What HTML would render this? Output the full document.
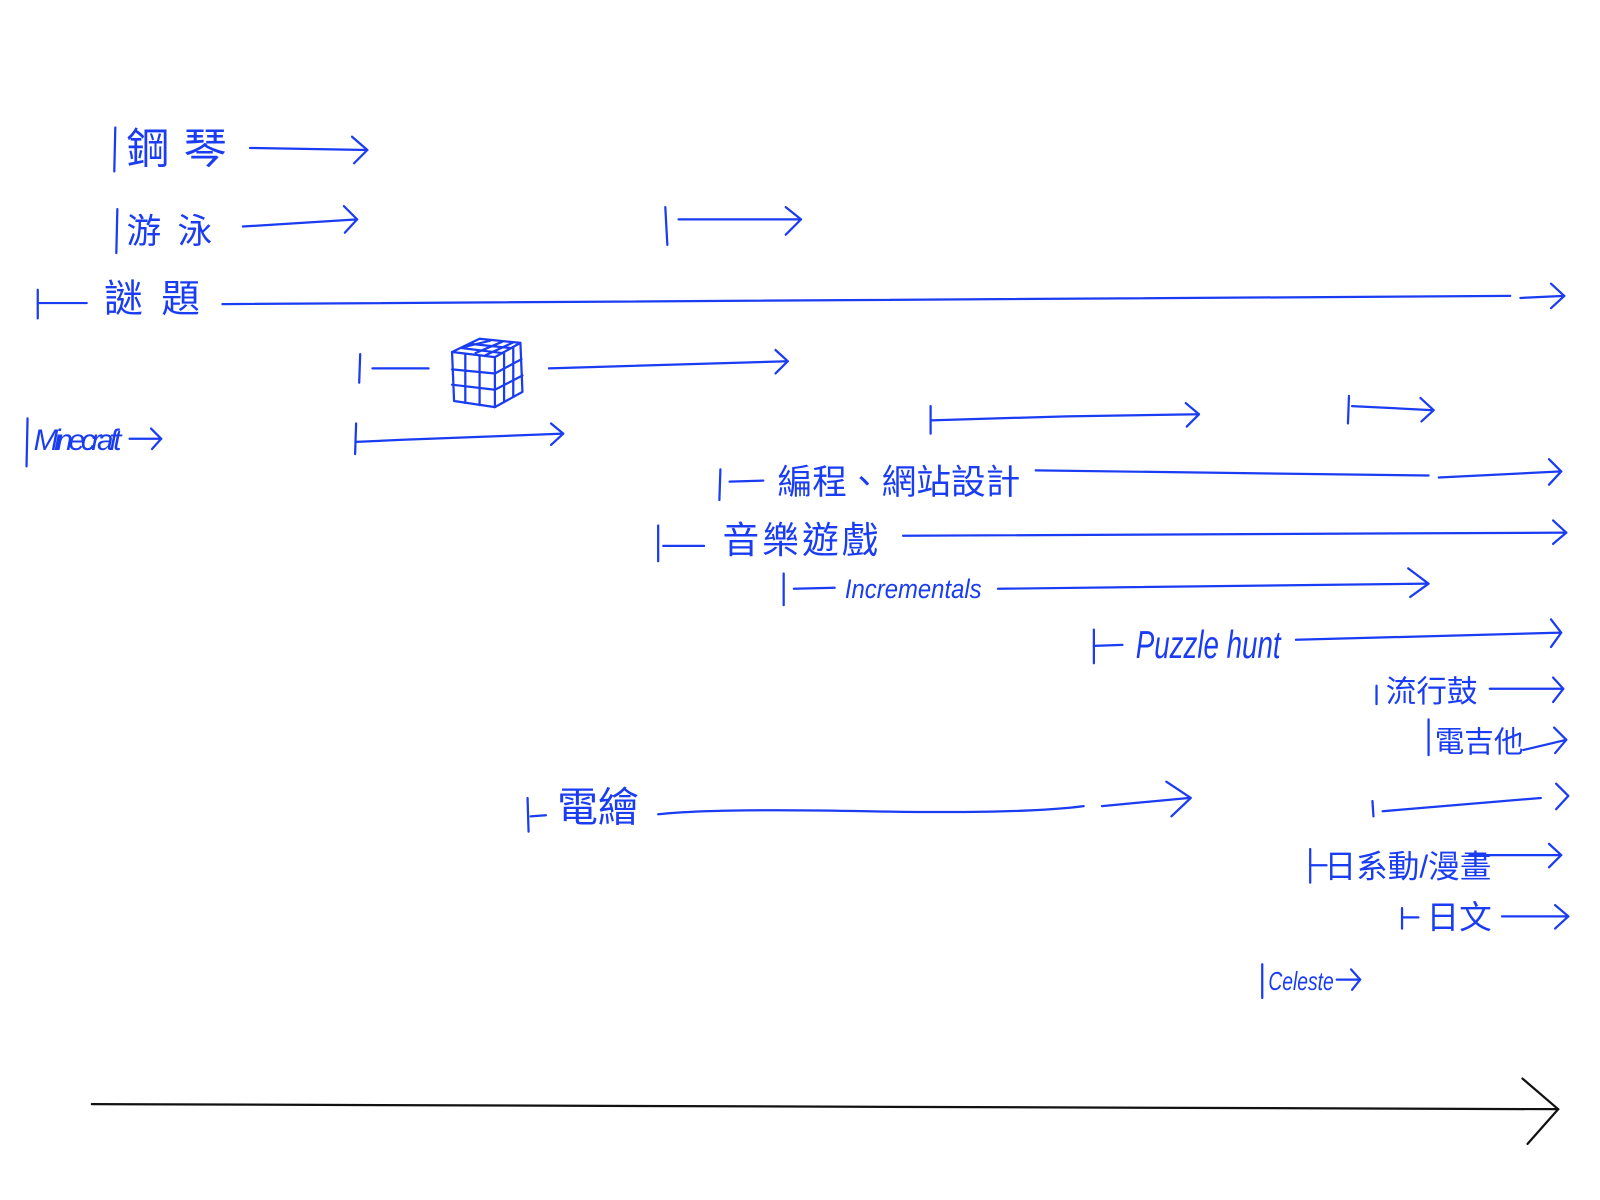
<!DOCTYPE html>
<html><head><meta charset="utf-8"><style>
html,body{margin:0;padding:0;background:#fff;width:1600px;height:1200px;overflow:hidden}
svg{display:block}
text{fill:#1a3cf2;font-family:"Liberation Sans","Noto Sans CJK TC",sans-serif}
</style></head><body>
<svg width="1600" height="1200" viewBox="0 0 1568 1176" xmlns="http://www.w3.org/2000/svg">
<g stroke="#1a3cf2" stroke-width="2.2" fill="none" stroke-linecap="round" stroke-linejoin="round">
<path d="M113 125 L112 168"/><path d="M245 145 L360 147"/><path d="M345 134 L360 147 L347 160"/>
<path d="M115 205 L114 248"/><path d="M238 222 L350 215"/><path d="M337 202 L350 215 L338 228"/>
<path d="M652 203 L654 240"/><path d="M665 215 L785 215"/><path d="M770 203 L785 215 L770 230"/>
<path d="M37 284 L37 312"/><path d="M37 297 L85 297"/><path d="M218 298 L1480 290"/><path d="M1490 292 L1533 290"/><path d="M1520 278 L1533 290 L1520 302"/>
<path d="M353 347 L352 375"/><path d="M365 361 L420 361"/><path d="M538 361 L772 354"/><path d="M760 343 L772 354 L760 366"/>
<path d="M443 345 L470 332 L510 336 L485 350 Z"/><path d="M443 345 L445 393 L485 399 L485 350"/><path d="M485 399 L512 384 L510 336"/>
<path d="M452 341 L492 346 M461 337 L500 341 M455 340 L480 334 M466 346 L492 335 M476 348 L502 336"/>
<path d="M456 347 L456 395 M470 348 L470 397 M443 362 L485 366 M443 377 L485 382 M494 345 L494 394 M503 340 L503 389 M485 366 L511 352 M485 382 L512 368"/>
<path d="M27 410 L26 457"/><path d="M127 430 L158 430"/><path d="M148 420 L158 430 L149 440"/>
<path d="M349 415 L348 445"/><path d="M349 433 L395 431 L552 425"/><path d="M540 415 L552 425 L540 436"/>
<path d="M912 398 L912 425"/><path d="M912 412 L1045 408 L1175 406"/><path d="M1162 395 L1175 406 L1163 418"/>
<path d="M1322 388 L1321 415"/><path d="M1325 398 L1405 402"/><path d="M1392 390 L1405 402 L1393 413"/>
<path d="M706 460 L705 490"/><path d="M715 472 L748 471"/><path d="M1015 461 L1400 466"/><path d="M1410 468 L1530 462"/><path d="M1518 450 L1530 462 L1518 475"/>
<path d="M645 515 L645 550"/><path d="M650 535 L690 535"/><path d="M885 525 L1535 522"/><path d="M1522 510 L1535 522 L1522 533"/>
<path d="M768 562 L768 593"/><path d="M778 577 L818 576"/><path d="M978 577 L1400 572"/><path d="M1380 557 L1400 572 L1382 585"/>
<path d="M1072 617 L1072 650"/><path d="M1072 633 L1100 632"/><path d="M1270 627 L1530 620"/><path d="M1520 607 L1530 620 L1520 634"/>
<path d="M1349 672 L1349 690"/><path d="M1460 675 L1532 675"/><path d="M1522 664 L1532 675 L1522 688"/>
<path d="M1400 705 L1400 740"/><path d="M1493 735 L1535 725"/><path d="M1523 713 L1535 725 L1524 738"/>
<path d="M1345 785 L1346 800"/><path d="M1355 795 L1510 782"/><path d="M1525 768 L1537 780 L1525 793"/>
<path d="M517 782 L518 815"/><path d="M520 800 L535 799"/><path d="M645 798 Q700 792 850 795 T1062 790"/><path d="M1080 790 L1165 782"/><path d="M1143 766 L1167 782 L1148 800"/>
<path d="M1284 832 L1284 865"/><path d="M1284 848 L1300 848"/><path d="M1440 838 L1530 838"/><path d="M1518 827 L1530 838 L1518 850"/>
<path d="M1374 890 L1374 910"/><path d="M1374 899 L1390 899"/><path d="M1472 898 L1537 898"/><path d="M1524 887 L1537 898 L1524 910"/>
<path d="M1237 945 L1237 978"/><path d="M1310 960 L1333 960"/><path d="M1324 950 L1333 960 L1325 970"/>
</g>
<g stroke="#111" stroke-width="2.2" fill="none" stroke-linecap="round">
<path d="M90 1082 L1527 1087"/><path d="M1492 1057 L1527 1087 L1497 1121"/>
</g>
<text x="124" y="160" font-size="42" letter-spacing="14">鋼琴</text>
<text x="124" y="238" font-size="34" letter-spacing="16">游泳</text>
<text x="102" y="306" font-size="38" letter-spacing="18">謎題</text>
<text x="33" y="441" font-size="29" font-style="italic" letter-spacing="-2" textLength="84">Minecraft</text>
<text x="762" y="484" font-size="34">編程、網站設計</text>
<text x="708" y="542" font-size="36" letter-spacing="3">音樂遊戲</text>
<text x="828" y="586" font-size="26" font-style="italic" textLength="134" lengthAdjust="spacingAndGlyphs">Incrementals</text>
<text x="1113" y="645" font-size="38" font-style="italic" textLength="142" lengthAdjust="spacingAndGlyphs">Puzzle hunt</text>
<text x="1358" y="688" font-size="30">流行鼓</text>
<text x="1406" y="737" font-size="29">電吉他</text>
<text x="546" y="805" font-size="40">電繪</text>
<text x="1298" y="860" font-size="31">日系動/漫畫</text>
<text x="1398" y="910" font-size="32">日文</text>
<text x="1243" y="970" font-size="25" font-style="italic" textLength="64" lengthAdjust="spacingAndGlyphs">Celeste</text>
</svg>
</body></html>
